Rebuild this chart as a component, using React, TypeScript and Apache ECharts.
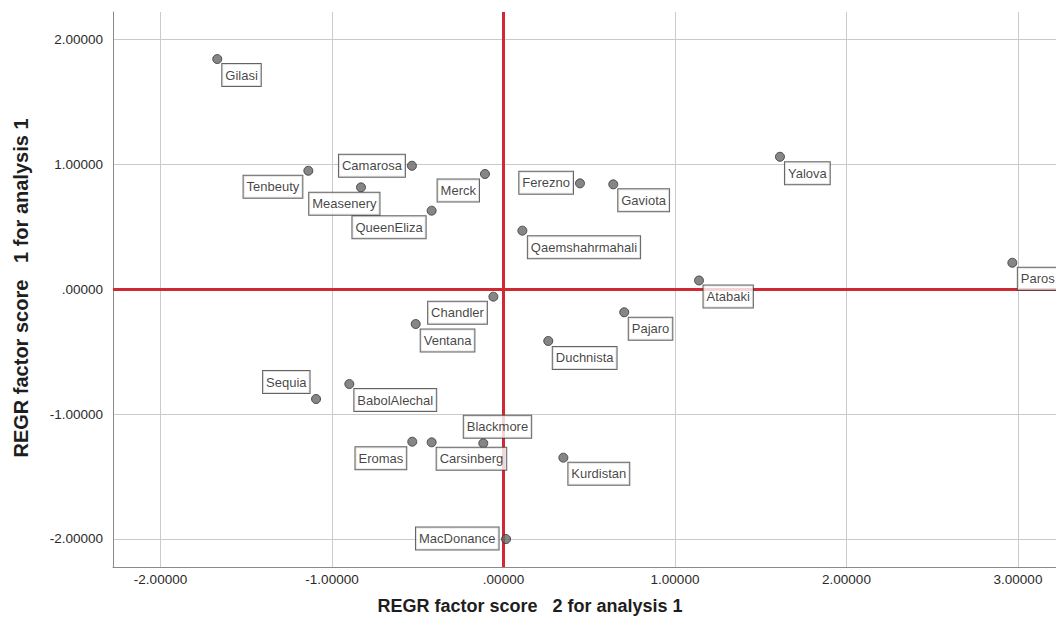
import React, { useEffect, useRef } from "react";
import * as echarts from "echarts";

// ---- data ----
const varieties = [
  "Gilasi", "Tenbeuty", "Camarosa", "Measenery", "Merck", "QueenEliza",
  "Ferezno", "Gaviota", "Qaemshahrmahali", "Yalova", "Atabaki", "Paros",
  "Chandler", "Ventana", "Pajaro", "Duchnista", "Sequia", "BabolAlechal",
  "Blackmore", "Eromas", "Carsinberg", "Kurdistan", "MacDonance",
];
// REGR factor score 2 for analysis 1 (horizontal)
const factor2Scores = [
  -1.669, -1.138, -0.534, -0.831, -0.108, -0.419,
  0.446, 0.640, 0.110, 1.612, 1.140, 2.967,
  -0.059, -0.512, 0.704, 0.261, -1.093, -0.899,
  -0.118, -0.532, -0.419, 0.349, 0.015,
];
// REGR factor score 1 for analysis 1 (vertical)
const factor1Scores = [
  1.845, 0.950, 0.990, 0.817, 0.924, 0.630,
  0.849, 0.841, 0.470, 1.062, 0.071, 0.213,
  -0.059, -0.278, -0.184, -0.414, -0.879, -0.759,
  -1.234, -1.221, -1.226, -1.349, -2.001,
];
const xExtent = [-2.277, 3.2216];
const yExtent = [-2.225, 2.222];
const referenceValue = 0;

const xTitle = "REGR factor score   2 for analysis 1";
const yTitle = "REGR factor score   1 for analysis 1";

// ---- layout / style (not data) ----
const FONT = "Arial, 'Liberation Sans', Helvetica, sans-serif";
const SYM = 9;
// label anchor relative to point centre: [dx, dy, align, verticalAlign]
const labelPlacement: Record<string, [number, number, string, string]> = {
  Gilasi: [5.5, 5.5, "left", "top"],
  Tenbeuty: [-5.5, 5.5, "right", "top"],
  Camarosa: [-6.5, 0.5, "right", "middle"],
  Measenery: [19, 6, "right", "top"],
  Merck: [-5.5, 6, "right", "top"],
  QueenEliza: [-5.5, 6, "right", "top"],
  Ferezno: [-6.5, 0, "right", "middle"],
  Gaviota: [5.5, 5.5, "left", "top"],
  Qaemshahrmahali: [6, 6, "left", "top"],
  Yalova: [5.5, 6, "left", "top"],
  Atabaki: [5, 5.5, "left", "top"],
  Paros: [6, 5.5, "left", "top"],
  Chandler: [-6, 5.5, "right", "top"],
  Ventana: [5.5, 6, "left", "top"],
  Pajaro: [5, 6, "left", "top"],
  Duchnista: [5, 6.5, "left", "top"],
  Sequia: [-6, -5.5, "right", "bottom"],
  BabolAlechal: [5.5, 5.5, "left", "top"],
  Blackmore: [-19, -5, "left", "bottom"],
  Eromas: [-5.5, 6, "right", "top"],
  Carsinberg: [5.5, 6, "left", "top"],
  Kurdistan: [5.5, 5.5, "left", "top"],
  MacDonance: [-7, 0, "right", "middle"],
};

function fmt(v: number): string {
  const s = Math.abs(v) < 1e-9 ? "0.00000" : v.toFixed(5);
  return s.replace(/^(-?)0\./, "$1.");
}

export default function App() {
  const ref = useRef<HTMLDivElement>(null);

  useEffect(() => {
    if (!ref.current) return;
    const chart = echarts.init(ref.current, undefined, { renderer: "svg" });

    const points = varieties.map((name, i) => {
      const p = labelPlacement[name] || [5.5, 5.5, "left", "top"];
      return {
        name,
        value: [factor2Scores[i], factor1Scores[i]],
        label: {
          position: [SYM / 2 + p[0], SYM / 2 + p[1]],
          align: p[2],
          verticalAlign: p[3],
        },
      };
    });

    const axisCommon = {
      type: "value" as const,
      minInterval: 1,
      maxInterval: 1,
      splitNumber: 5,
      axisLine: { show: true, onZero: false, lineStyle: { color: "#8a8a8a", width: 1 } },
      axisTick: { show: false },
      splitLine: {
        show: true,
        showMinLine: false,
        showMaxLine: false,
        lineStyle: { color: "#cacaca", width: 1 },
      },
      axisLabel: {
        showMinLabel: false,
        showMaxLabel: false,
        formatter: (v: number) => fmt(v),
        color: "#2a2a2a",
        fontSize: 13.5,
        fontFamily: FONT,
      },
    };

    chart.setOption({
      animation: false,
      backgroundColor: "#ffffff",
      grid: { left: 113, right: 0, top: 12, bottom: 63, containLabel: false },
      xAxis: {
        ...axisCommon,
        min: xExtent[0],
        max: xExtent[1],
        axisLabel: { ...axisCommon.axisLabel, margin: 5 },
      },
      yAxis: {
        ...axisCommon,
        min: yExtent[0],
        max: yExtent[1],
        axisLabel: { ...axisCommon.axisLabel, margin: 10 },
      },
      series: [
        {
          type: "scatter",
          z: 1,
          data: [],
          silent: true,
          markLine: {
            z: 1,
            silent: true,
            symbol: "none",
            label: { show: false },
            lineStyle: { color: "#cf2a33", width: 3, type: "solid" },
            data: [{ xAxis: referenceValue }, { yAxis: referenceValue }],
          },
        },
        {
          type: "scatter",
          z: 3,
          symbol: "circle",
          symbolSize: SYM,
          itemStyle: { color: "#686868", borderColor: "#333333", borderWidth: 1 },
          label: {
            show: true,
            formatter: "{b}",
            fontSize: 13,
            fontFamily: FONT,
            color: "#111111",
            backgroundColor: "#ffffff",
            borderColor: "#3c3c3c",
            borderWidth: 1,
            padding: [3, 3, 3, 3],
            lineHeight: 16,
          },
          data: points,
        },
      ],
      graphic: [
        {
          type: "text",
          x: 530,
          y: 606,
          style: {
            text: xTitle,
            font: `bold 18px ${FONT}`,
            fill: "#1e1e1e",
            align: "center",
            verticalAlign: "middle",
          },
        },
        {
          type: "text",
          x: 21,
          y: 288,
          rotation: Math.PI / 2,
          style: {
            text: yTitle,
            font: `bold 20px ${FONT}`,
            fill: "#1e1e1e",
            align: "center",
            verticalAlign: "middle",
          },
        },
      ],
    });

    return () => chart.dispose();
  }, []);

  return (
    <div
      ref={ref}
      style={{ position: "fixed", left: 0, top: 0, width: 1056, height: 630, background: "#fff" }}
    />
  );
}
